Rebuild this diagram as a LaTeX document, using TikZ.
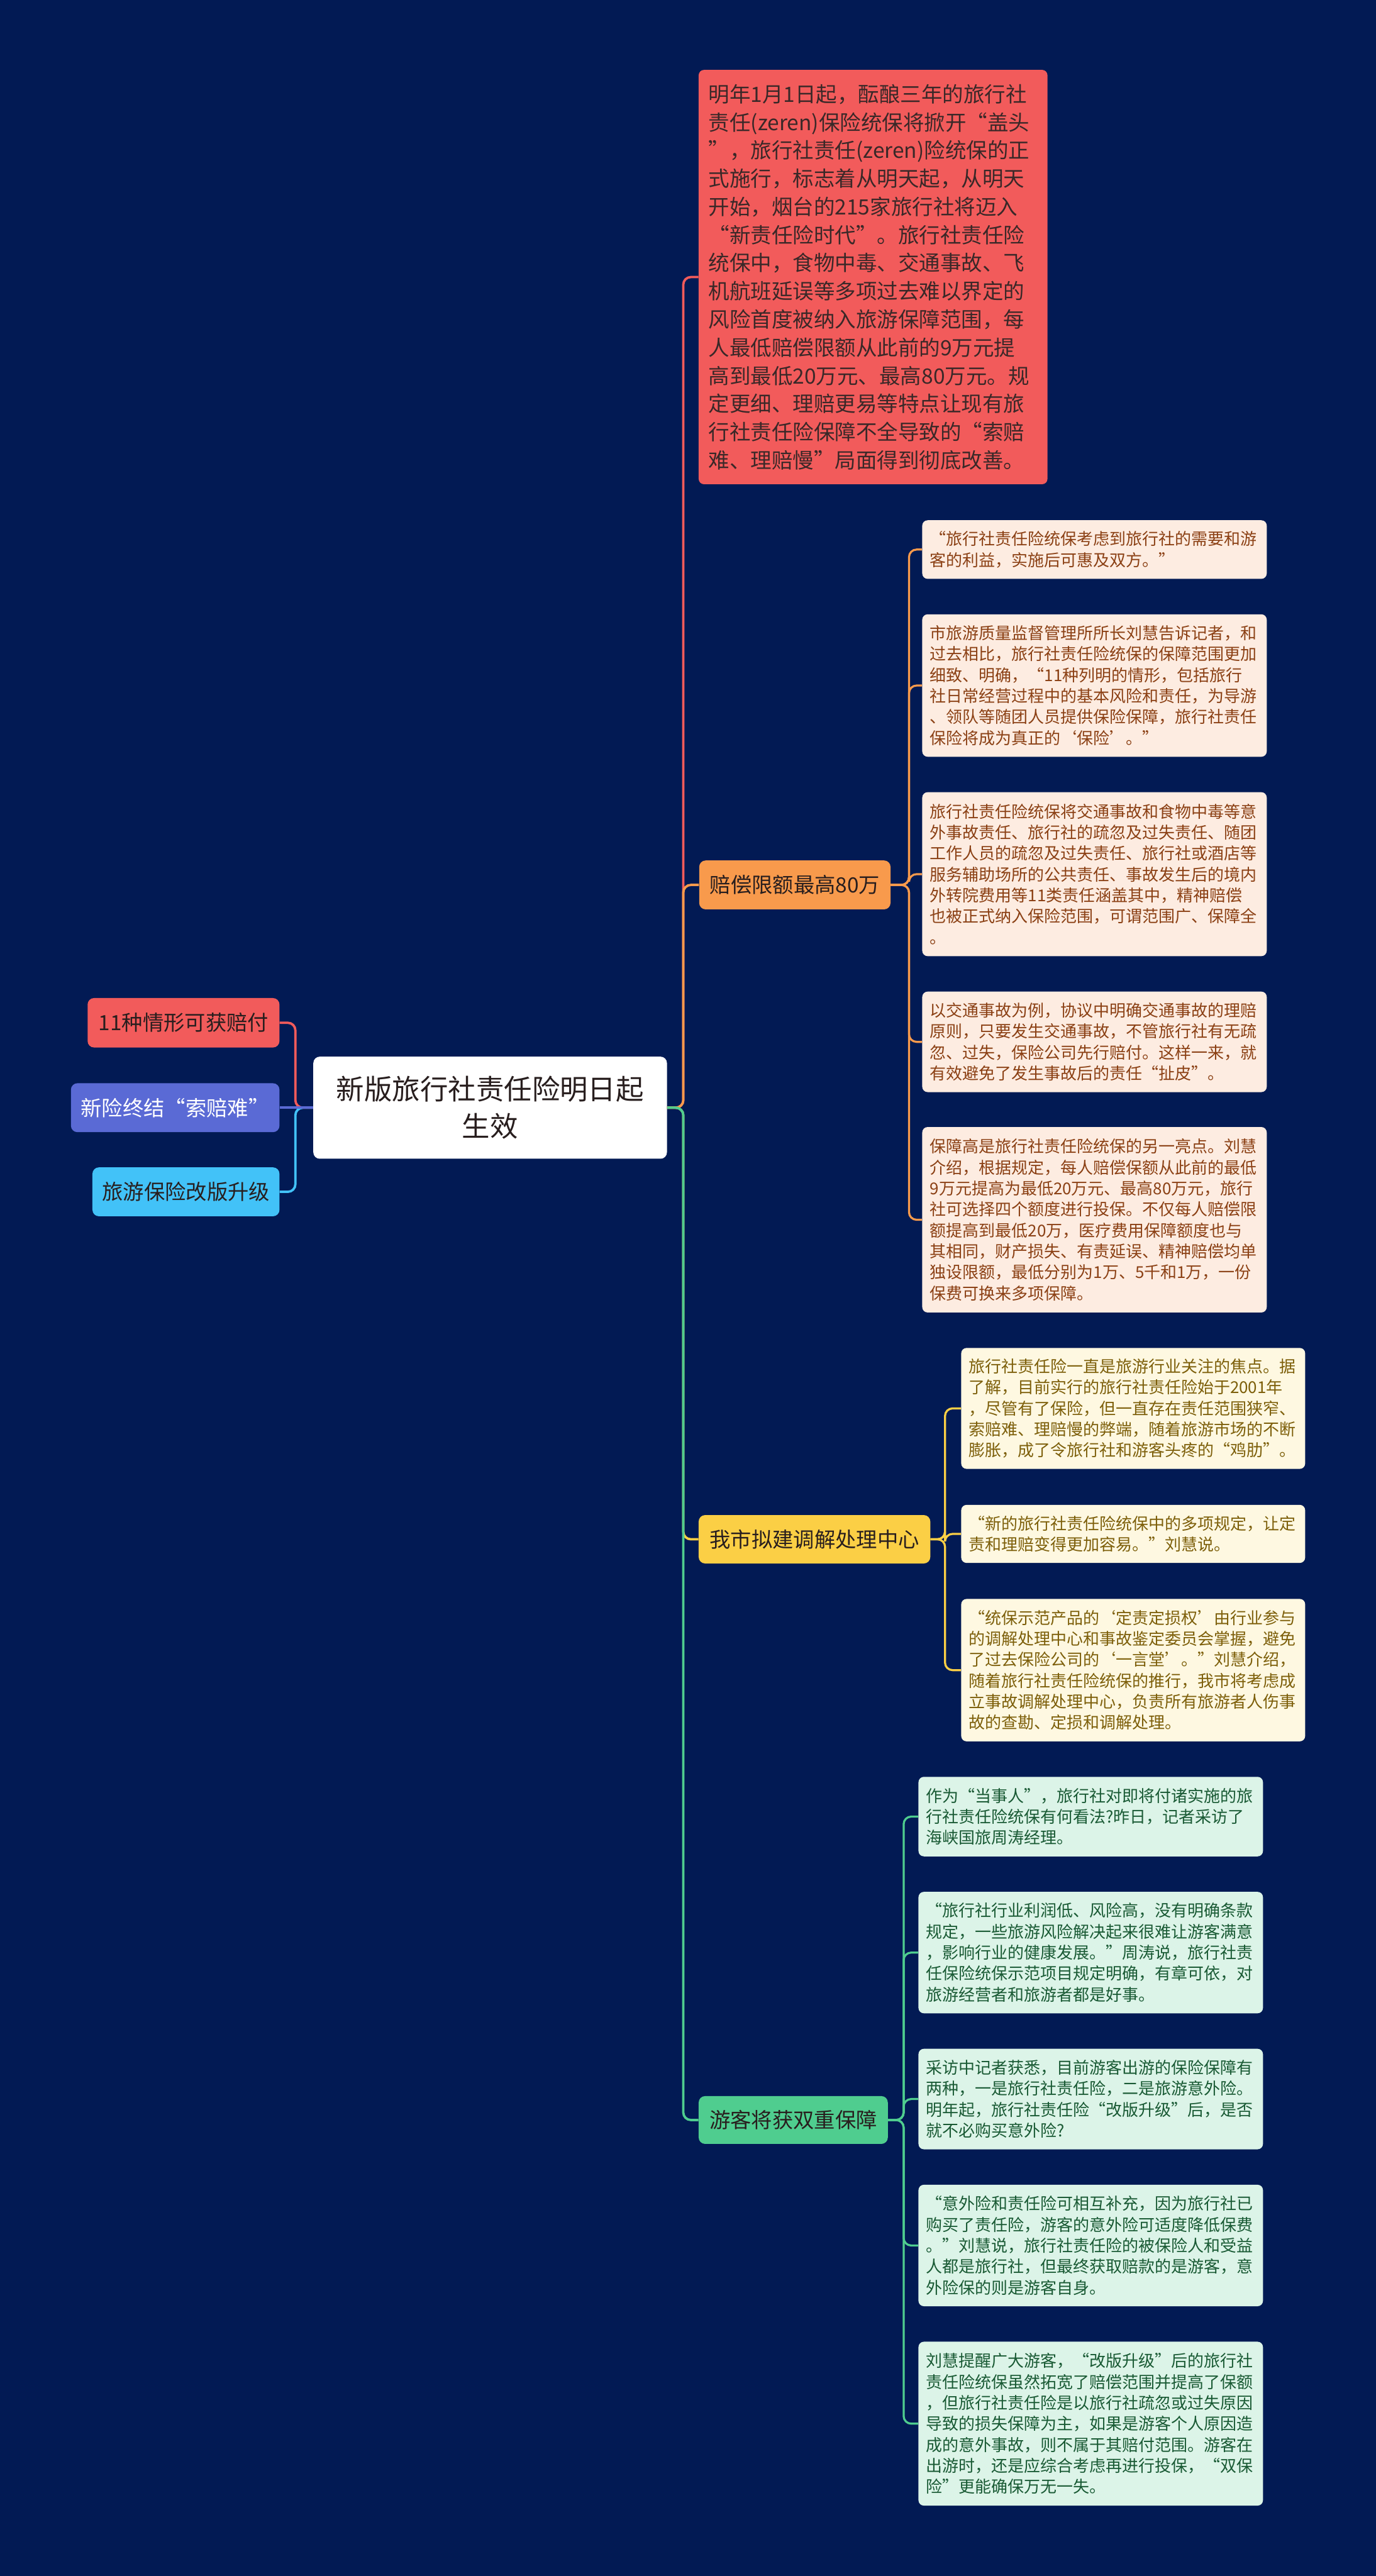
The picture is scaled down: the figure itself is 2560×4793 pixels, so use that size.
\documentclass[tikz,border=0pt]{standalone}
\usepackage{fontspec}
\setmainfont{Noto Sans CJK SC}
\definecolor{bg}{RGB}{2,26,84}
\definecolor{cred}{RGB}{242,91,91}
\definecolor{cblue}{RGB}{90,106,213}
\definecolor{clblue}{RGB}{66,194,248}
\definecolor{corange}{RGB}{248,154,76}
\definecolor{cyellow}{RGB}{251,207,69}
\definecolor{cgreen}{RGB}{79,205,143}
\definecolor{cdark}{RGB}{40,30,30}
\definecolor{ctopt}{RGB}{58,40,40}
\definecolor{ofill}{RGB}{253,236,225}
\definecolor{otext}{RGB}{139,64,20}
\definecolor{yfill}{RGB}{254,248,225}
\definecolor{ytext}{RGB}{125,95,10}
\definecolor{gfill}{RGB}{220,244,232}
\definecolor{gtext}{RGB}{25,90,52}
\tikzset{
  branch/.style={rounded corners=6pt, inner sep=0pt, align=center, font=\fontsize{19.5}{26}\selectfont},
  detail/.style={rounded corners=5pt, inner xsep=7pt, inner ysep=0pt, text width=306pt, align=left, font=\fontsize{15.2}{19.5}\selectfont},
  obox/.style={detail, fill=ofill, text=otext, minimum width=320.5pt},
  ybox/.style={detail, fill=yfill, text=ytext, minimum width=319.5pt},
  gbox/.style={detail, fill=gfill, text=gtext, minimum width=320.5pt},
  link/.style={line width=2.2pt, rounded corners=7pt},
  sublink/.style={line width=1.9pt, rounded corners=7pt}
}
\begin{document}
\begin{tikzpicture}[x=0.5pt,y=-0.5pt]
\fill[bg] (0,0) rectangle (2560,4793);
\useasboundingbox (0,0) rectangle (2560,4793);

% center
\node[branch, fill=white, text=cdark, minimum width=329pt, minimum height=95pt, font=\fontsize{26}{34.5}\selectfont] (c) at (912,2061) {新版旅行社责任险明日起\\生效};

% left
\node[branch, fill=cred, text=cdark, minimum width=178.5pt, minimum height=46pt] (l1) at (341.5,1903) {11种情形可获赔付};
\node[branch, fill=cblue, text=white, minimum width=194pt, minimum height=45.5pt] (l2) at (326,2061) {新险终结“索赔难”};
\node[branch, fill=clblue, text=cdark, minimum width=174pt, minimum height=45.5pt] (l3) at (346,2217.5) {旅游保险改版升级};

% top red text box
\node[detail, fill=cred, text=ctopt, inner xsep=9pt, minimum width=324.5pt, minimum height=385.5pt, font=\fontsize{19.6}{26.2}\selectfont] (t) at (1624.5,515.5) {明年1月1日起，酝酿三年的旅行社\\责任(zeren)保险统保将掀开“盖头\\”，旅行社责任(zeren)险统保的正\\式施行，标志着从明天起，从明天\\开始，烟台的215家旅行社将迈入\\“新责任险时代”。旅行社责任险\\统保中，食物中毒、交通事故、飞\\机航班延误等多项过去难以界定的\\风险首度被纳入旅游保障范围，每\\人最低赔偿限额从此前的9万元提\\高到最低20万元、最高80万元。规\\定更细、理赔更易等特点让现有旅\\行社责任险保障不全导致的“索赔\\难、理赔慢”局面得到彻底改善。};

% branches
\node[branch, fill=corange, text=cdark, minimum width=178pt, minimum height=45.5pt] (pay) at (1479,1646.5) {赔偿限额最高80万};
\node[branch, fill=cyellow, text=cdark, minimum width=215.5pt, minimum height=45pt] (city) at (1515.5,2864) {我市拟建调解处理中心};
\node[branch, fill=cgreen, text=cdark, minimum width=176pt, minimum height=44.5pt] (tour) at (1476,3944.5) {游客将获双重保障};

% orange details
\node[obox, minimum height=54.5pt] (o1) at (2036.5,1022.5) {“旅行社责任险统保考虑到旅行社的需要和游\\客的利益，实施后可惠及双方。”};
\node[obox, minimum height=132.5pt] (o2) at (2036.5,1275.5) {市旅游质量监督管理所所长刘慧告诉记者，和\\过去相比，旅行社责任险统保的保障范围更加\\细致、明确，“11种列明的情形，包括旅行\\社日常经营过程中的基本风险和责任，为导游\\、领队等随团人员提供保险保障，旅行社责任\\保险将成为真正的‘保险’。”};
\node[obox, minimum height=152.5pt] (o3) at (2036.5,1626.5) {旅行社责任险统保将交通事故和食物中毒等意\\外事故责任、旅行社的疏忽及过失责任、随团\\工作人员的疏忽及过失责任、旅行社或酒店等\\服务辅助场所的公共责任、事故发生后的境内\\外转院费用等11类责任涵盖其中，精神赔偿\\也被正式纳入保险范围，可谓范围广、保障全\\。};
\node[obox, minimum height=93.5pt] (o4) at (2036.5,1938.5) {以交通事故为例，协议中明确交通事故的理赔\\原则，只要发生交通事故，不管旅行社有无疏\\忽、过失，保险公司先行赔付。这样一来，就\\有效避免了发生事故后的责任“扯皮”。};
\node[obox, minimum height=172.5pt] (o5) at (2036.5,2269.5) {保障高是旅行社责任险统保的另一亮点。刘慧\\介绍，根据规定，每人赔偿保额从此前的最低\\9万元提高为最低20万元、最高80万元，旅行\\社可选择四个额度进行投保。不仅每人赔偿限\\额提高到最低20万，医疗费用保障额度也与\\其相同，财产损失、有责延误、精神赔偿均单\\独设限额，最低分别为1万、5千和1万，一份\\保费可换来多项保障。};

% yellow details
\node[ybox, minimum height=112.5pt] (y1) at (2108.5,2620.5) {旅行社责任险一直是旅游行业关注的焦点。据\\了解，目前实行的旅行社责任险始于2001年\\，尽管有了保险，但一直存在责任范围狭窄、\\索赔难、理赔慢的弊端，随着旅游市场的不断\\膨胀，成了令旅行社和游客头疼的“鸡肋”。};
\node[ybox, minimum height=54pt] (y2) at (2108.5,2854) {“新的旅行社责任险统保中的多项规定，让定\\责和理赔变得更加容易。”刘慧说。};
\node[ybox, minimum height=132.5pt] (y3) at (2108.5,3107.5) {“统保示范产品的‘定责定损权’由行业参与\\的调解处理中心和事故鉴定委员会掌握，避免\\了过去保险公司的‘一言堂’。”刘慧介绍，\\随着旅行社责任险统保的推行，我市将考虑成\\立事故调解处理中心，负责所有旅游者人伤事\\故的查勘、定损和调解处理。};

% green details
\node[gbox, minimum height=74pt] (g1) at (2029.5,3380) {作为“当事人”，旅行社对即将付诸实施的旅\\行社责任险统保有何看法?昨日，记者采访了\\海峡国旅周涛经理。};
\node[gbox, minimum height=113pt] (g2) at (2029.5,3633) {“旅行社行业利润低、风险高，没有明确条款\\规定，一些旅游风险解决起来很难让游客满意\\，影响行业的健康发展。”周涛说，旅行社责\\任保险统保示范项目规定明确，有章可依，对\\旅游经营者和旅游者都是好事。};
\node[gbox, minimum height=93.5pt] (g3) at (2029.5,3905.5) {采访中记者获悉，目前游客出游的保险保障有\\两种，一是旅行社责任险，二是旅游意外险。\\明年起，旅行社责任险“改版升级”后，是否\\就不必购买意外险?};
\node[gbox, minimum height=113pt] (g4) at (2029.5,4178) {“意外险和责任险可相互补充，因为旅行社已\\购买了责任险，游客的意外险可适度降低保费\\。”刘慧说，旅行社责任险的被保险人和受益\\人都是旅行社，但最终获取赔款的是游客，意\\外险保的则是游客自身。};
\node[gbox, minimum height=152.5pt] (g5) at (2029.5,4509.5) {刘慧提醒广大游客，“改版升级”后的旅行社\\责任险统保虽然拓宽了赔偿范围并提高了保额\\，但旅行社责任险是以旅行社疏忽或过失原因\\导致的损失保障为主，如果是游客个人原因造\\成的意外事故，则不属于其赔付范围。游客在\\出游时，还是应综合考虑再进行投保，“双保\\险”更能确保万无一失。};

% left connectors
\draw[link, cred] (c.west) -- ++(-33,0) |- (l1.east);
\draw[link, clblue] (c.west) -- ++(-33,0) |- (l3.east);
\draw[link, cblue] (c.west) -- (l2.east);

% right main connectors
\draw[link, cred] (c.east) -- ++(30,0) |- (t.west);
\draw[link, corange] (c.east) -- ++(30,0) |- (pay.west);
\draw[link, cyellow] (c.east) -- ++(30,0) |- (city.west);
\draw[link, cgreen] (c.east) -- ++(30,0) |- (tour.west);

% orange sub connectors
\foreach \b in {o1,o2,o3,o4,o5}
  \draw[sublink, corange] (pay.east) -- ++(34,0) |- (\b.west);
% yellow sub connectors
\foreach \b in {y1,y2,y3}
  \draw[sublink, cyellow] (city.east) -- ++(27,0) |- (\b.west);
% green sub connectors
\foreach \b in {g1,g2,g3,g4,g5}
  \draw[sublink, cgreen] (tour.east) -- ++(29,0) |- (\b.west);
\end{tikzpicture}
\end{document}
